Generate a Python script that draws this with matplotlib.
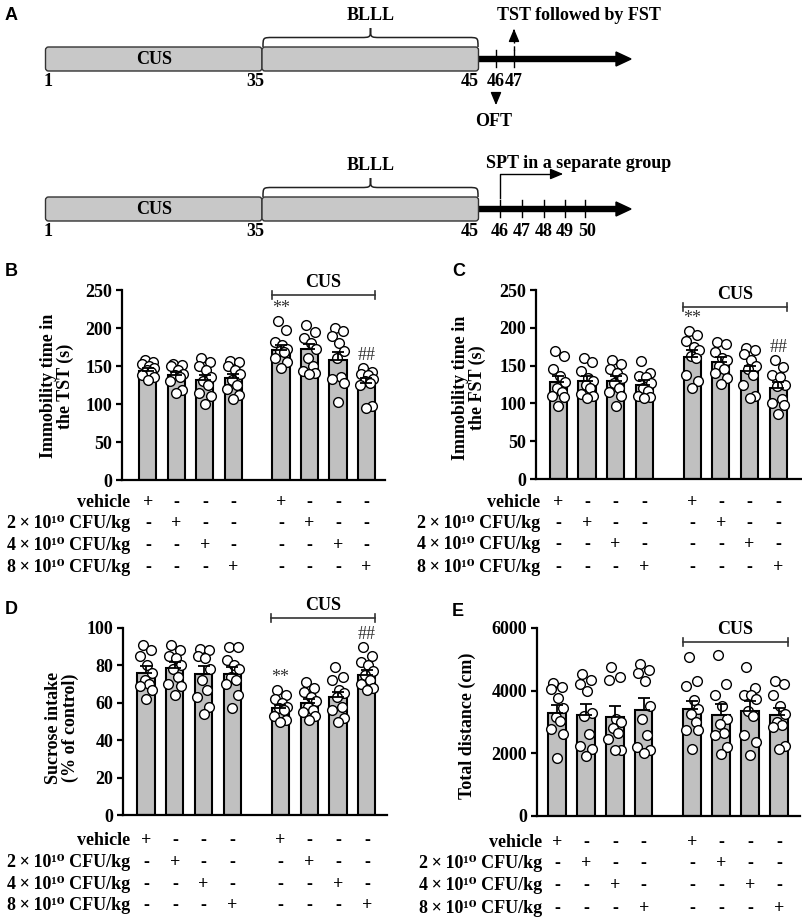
import numpy as np
import matplotlib
matplotlib.use('Agg')
import matplotlib.pyplot as plt
from matplotlib.patches import FancyBboxPatch, PathPatch, FancyArrow
from matplotlib.path import Path
from matplotlib.transforms import blended_transform_factory

plt.rcParams['font.family'] = ['Liberation Serif', 'DejaVu Serif']
plt.rcParams['font.weight'] = 'bold'
plt.rcParams['font.size'] = 13

W, H = 803, 921

# ---- data ----
positions = [0, 1, 2, 3, 4.67, 5.67, 6.67, 7.67]
row_labels = ['vehicle', '2\u2009×\u200910¹⁰ CFU/kg', '4\u2009×\u200910¹⁰ CFU/kg',
              '8\u2009×\u200910¹⁰ CFU/kg']
row_signs = [
    ['+', '-', '-', '-', '+', '-', '-', '-'],
    ['-', '+', '-', '-', '-', '+', '-', '-'],
    ['-', '-', '+', '-', '-', '-', '+', '-'],
    ['-', '-', '-', '+', '-', '-', '-', '+'],
]

tst_mean = [144, 138, 132, 134, 171, 172, 158, 128]
tst_sem = [3, 4, 6, 6, 7, 7, 10, 6]
tst_points = [
    [158, 155, 152, 150, 148, 145, 142, 138, 135, 131],
    [152, 151, 150, 145, 140, 138, 136, 130, 118, 115],
    [160, 155, 150, 145, 135, 130, 125, 115, 110, 100],
    [157, 155, 150, 145, 140, 132, 125, 120, 112, 107],
    [209, 197, 182, 178, 172, 170, 168, 160, 155, 148],
    [204, 195, 187, 180, 172, 160, 150, 143, 141, 140],
    [200, 196, 190, 180, 170, 160, 135, 133, 128, 103],
    [148, 142, 140, 138, 133, 130, 128, 125, 97, 95],
]

fst_mean = [128, 130, 129, 125, 162, 155, 143, 120]
fst_sem = [8, 6, 7, 6, 8, 6, 7, 8]
fst_points = [
    [169, 163, 146, 136, 128, 120, 115, 110, 108, 96],
    [160, 155, 143, 133, 130, 125, 120, 113, 110, 107],
    [158, 152, 145, 140, 133, 127, 120, 115, 110, 96],
    [156, 140, 136, 135, 127, 120, 116, 110, 108, 107],
    [196, 190, 182, 175, 170, 163, 160, 138, 130, 120],
    [181, 178, 168, 160, 157, 150, 145, 140, 133, 126],
    [173, 170, 166, 158, 150, 145, 138, 125, 110, 107],
    [158, 148, 138, 135, 125, 123, 106, 100, 98, 86],
]

spt_mean = [76, 78.6, 75.3, 75.3, 57, 60, 63, 74.7]
spt_sem = [3.5, 3, 4.5, 4, 2, 2, 3, 3]
spt_points = [
    [91, 88, 85, 80, 76, 72, 70, 69, 67, 62],
    [91, 88, 85, 84, 80, 78, 74, 70, 69, 64],
    [89, 88, 85, 84, 78, 72, 67, 63, 58, 54],
    [90, 90, 83, 80, 78, 74, 72, 70, 64, 57],
    [67, 64, 62, 60, 58, 57, 56, 53, 51, 50],
    [71, 68, 66, 63, 61, 58, 56, 55, 53, 51],
    [79, 74, 72, 67, 65, 63, 58, 56, 52, 50],
    [90, 85, 82, 80, 77, 75, 72, 70, 68, 67],
]

oft_mean = [3290, 3230, 3165, 3375, 3400, 3220, 3355, 3220]
oft_sem = [250, 350, 340, 380, 280, 340, 310, 240]
oft_points = [
    [4230, 4120, 4060, 3780, 3460, 3150, 3020, 2790, 2630, 1860],
    [4520, 4350, 4200, 4000, 3300, 3200, 2620, 2230, 2150, 1900],
    [4750, 4450, 4350, 3100, 3000, 2800, 2650, 2450, 2100, 2100],
    [4850, 4650, 4550, 4300, 3500, 3100, 2600, 2200, 2100, 2000],
    [5080, 4300, 4150, 3700, 3400, 3250, 3000, 2750, 2750, 2150],
    [5150, 4200, 3850, 3500, 3100, 2950, 2650, 2600, 2200, 1980],
    [4750, 4100, 3850, 3850, 3750, 3350, 3200, 2600, 2350, 1950],
    [4300, 4200, 3850, 3500, 3250, 3000, 2900, 2850, 2250, 2150],
]

jitter = [-0.12, 0.18, -0.2, 0.05, 0.22, -0.05, 0.12, -0.22, 0.2, 0.0]

fig = plt.figure(figsize=(W / 100, H / 100), dpi=100)


def fy(y):
    return 1 - y / H


def add_ax(left, right, top, bottom):
    return fig.add_axes([left / W, 1 - bottom / H, (right - left) / W, (bottom - top) / H])


def panel(ax, means, sems, points, ylim, yticks, xlim, cus_y, rows_y, label_right,
          star=None, hashes=None):
    ax.bar(positions, means, width=0.6, color='#c0c0c0', edgecolor='black',
           linewidth=1.5, zorder=2)
    for p, pts in zip(positions, points):
        ax.plot(p + np.array(jitter[:len(pts)]), pts, 'o', ms=7, mfc='white',
                mec='black', mew=1.0, zorder=3, clip_on=False)
    ax.errorbar(positions, means, yerr=[np.zeros(len(means)), sems], fmt='none',
                ecolor='black', elinewidth=1.3, capsize=4, capthick=1.3, zorder=4)
    ax.set_xlim(*xlim)
    ax.set_ylim(*ylim)
    ax.set_yticks(yticks)
    ax.set_xticks([])
    for s in ['top', 'right']:
        ax.spines[s].set_visible(False)
    for s in ['left', 'bottom']:
        ax.spines[s].set_linewidth(1.6)
    ax.tick_params(axis='y', width=1.6, length=4, pad=3, labelsize=13)

    # CUS bracket
    bt = blended_transform_factory(ax.transData, ax.transAxes)
    x0, x1 = positions[4] - 0.33, positions[7] + 0.3
    ax.plot([x0, x1], [cus_y, cus_y], color='#333333', lw=1.2, transform=bt, clip_on=False)
    for xx in (x0, x1):
        ax.plot([xx, xx], [cus_y - 0.022, cus_y + 0.022], color='#333333', lw=1.2,
                transform=bt, clip_on=False)
    ax.text((x0 + x1) / 2, cus_y + 0.065, 'CUS', transform=bt, ha='center', va='center')

    # significance marks
    if star is not None:
        ax.annotate('**', (positions[star], max(points[star])), xytext=(0, 9),
                    textcoords='offset points', ha='center', va='center',
                    fontweight='normal', color='#333333', fontsize=13)
    if hashes is not None:
        ax.annotate('##', (positions[hashes], max(points[hashes])), xytext=(0, 9),
                    textcoords='offset points', ha='center', va='center',
                    fontweight='normal', color='#333333', fontsize=13)

    # treatment table
    tt = blended_transform_factory(ax.transData, fig.transFigure)
    for lab, signs, ry in zip(row_labels, row_signs, rows_y):
        fig.text(label_right / W, fy(ry), lab, ha='right', va='center')
        for p, s in zip(positions, signs):
            ax.text(p, fy(ry), s, transform=tt, ha='center', va='center')


# ---- panel A: timeline schematic ----
axA = fig.add_axes([0, 1 - 280 / H, 1, 280 / H])
axA.set_xlim(0, W)
axA.set_ylim(280, 0)
axA.axis('off')


def brace(x0, x1, yb, yt):
    xm = (x0 + x1) / 2
    ym = (yb + yt) / 2
    r = 10
    verts = [(x0, yb), (x0, ym), (x0, ym), (x0 + r, ym),
             (xm - r, ym), (xm, ym), (xm, ym), (xm, yt),
             (xm, ym), (xm, ym), (xm + r, ym),
             (x1 - r, ym), (x1, ym), (x1, ym), (x1, yb)]
    codes = [Path.MOVETO, Path.CURVE4, Path.CURVE4, Path.CURVE4,
             Path.LINETO, Path.CURVE4, Path.CURVE4, Path.CURVE4,
             Path.CURVE4, Path.CURVE4, Path.CURVE4,
             Path.LINETO, Path.CURVE4, Path.CURVE4, Path.CURVE4]
    axA.add_patch(PathPatch(Path(verts, codes), fc='none', ec='#222222', lw=1.1))


def timeline(yc, ticks, tick_labels):
    for x0, x1 in [(45.5, 262), (262, 478.5)]:
        axA.add_patch(FancyBboxPatch((x0, yc - 12), x1 - x0, 24,
                                     boxstyle='round,pad=0,rounding_size=3',
                                     fc='#c8c8c8', ec='#333333', lw=1.0, zorder=2))
    axA.add_patch(FancyArrow(478.5, yc, 152.5, 0, width=5, head_width=14, head_length=15,
                             length_includes_head=True, color='black', zorder=1))
    for t in ticks:
        axA.plot([t, t], [yc - 9, yc + 8], color='black', lw=1.0)
    axA.text(154, yc, 'CUS', ha='center', va='center', zorder=3)
    brace(263, 478, yc - 12, yc - 31)
    axA.text(371, yc - 44, 'BLLL', ha='center', va='center')
    for x, s in tick_labels:
        axA.text(x, yc + 23, s, ha='center', va='center')


timeline(59, [496, 514], [(48, '1'), (255, '35'), (470, '45'), (496, '46'), (514, '47')])
axA.plot([514, 514], [50, 33], color='black', lw=1.0, ls=(0, (3, 2)))
axA.annotate('', xy=(514, 26), xytext=(514, 34),
             arrowprops=dict(arrowstyle='-|>,head_length=0.6,head_width=0.25', color='black', lw=1.0))
axA.text(497, 15, 'TST followed by FST', ha='left', va='center')
axA.annotate('', xy=(496, 108), xytext=(496, 91),
             arrowprops=dict(arrowstyle='-|>,head_length=0.6,head_width=0.25', color='black', lw=1.0))
axA.text(494, 121, 'OFT', ha='center', va='center')

timeline(209, [500, 522, 544, 565, 585],
         [(48, '1'), (255, '35'), (470, '45'), (500, '46'), (522, '47'), (544, '48'),
          (565, '49'), (587, '50')])
axA.plot([500, 500, 556], [198, 174, 174], color='black', lw=1.0)
axA.annotate('', xy=(566, 174), xytext=(554, 174),
             arrowprops=dict(arrowstyle='-|>,head_length=0.6,head_width=0.25', color='black', lw=1.0))
axA.text(486, 163, 'SPT in a separate group', ha='left', va='center')

# ---- panels B-E ----
axB = add_ax(122, 385, 290, 480)
panel(axB, tst_mean, tst_sem, tst_points, (0, 250), range(0, 251, 50), (-0.91, 8.32),
      0.974, [502, 523, 545, 567], 130, star=4, hashes=7)
axC = add_ax(536, 802, 290, 479)
panel(axC, fst_mean, fst_sem, fst_points, (0, 250), range(0, 251, 50), (-0.78, 8.5),
      0.91, [502, 523, 544, 567], 540, star=4, hashes=7)
axD = add_ax(123, 387, 628, 815)
panel(axD, spt_mean, spt_sem, spt_points, (0, 100), range(0, 101, 20), (-0.8, 8.37),
      1.053, [840, 862, 884, 905], 130, star=4, hashes=7)
axE = add_ax(537, 800, 628, 816)
panel(axE, oft_mean, oft_sem, oft_points, (0, 6000), range(0, 6001, 2000), (-0.69, 8.4),
      0.926, [842, 863, 885, 908], 542)

# y labels
fig.text(57 / W, fy(386), 'Immobility time in\nthe TST (s)', rotation=90, ha='center',
         va='center', multialignment='center', linespacing=1.05)
fig.text(469 / W, fy(388), 'Immobility time in\nthe FST (s)', rotation=90, ha='center',
         va='center', multialignment='center', linespacing=1.05)
fig.text(62 / W, fy(728), 'Sucrose intake\n(% of control)', rotation=90, ha='center',
         va='center', multialignment='center', linespacing=1.05)
fig.text(467 / W, fy(726), 'Total distance (cm)', rotation=90, ha='center', va='center')

# panel letters
for lab, x, y in [('A', 5, 15), ('B', 5, 272), ('C', 452, 272), ('D', 5, 610), ('E', 452, 612)]:
    fig.text(x / W, fy(y), lab, family='Liberation Sans', fontweight='bold', fontsize=13,
             ha='left', va='center')

fig.savefig('out.png', dpi=100)
